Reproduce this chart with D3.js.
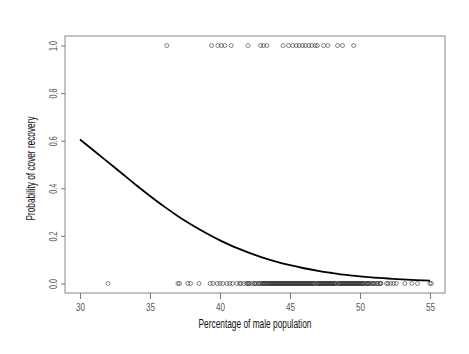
<!DOCTYPE html>
<html>
<head>
<meta charset="utf-8">
<script src="https://cdn.jsdelivr.net/npm/d3@7"></script>
<style>
  body { margin: 0; background: #fff; }
  text { font-family: "Liberation Sans Narrow", "Arial Narrow", "Liberation Sans", sans-serif; }
  .tick-label { fill: #555; font-size: 10.5px; }
  .axis-title { fill: #111; font-size: 13px; }
</style>
</head>
<body>
<div id="wrapper"></div>
<script>
// observed points: recovered (1) and not recovered (0)
const recoveredX = [36.2, 39.4, 39.85, 40.1, 40.35, 40.8, 42.0, 42.9, 43.1, 43.35,
  44.5, 44.9, 45.2, 45.45, 45.65, 45.9, 46.1, 46.35, 46.55, 46.8, 46.95,
  47.4, 47.7, 48.4, 48.75, 49.55]

const notRecoveredX = [32.0, 37.0, 37.1, 37.7, 37.9, 38.5, 39.3, 39.5, 39.8, 40.0,
  40.2, 40.5, 40.7, 40.9, 41.2, 41.4, 41.5, 41.7, 41.9, 42.0, 42.1, 42.3, 42.5,
  42.6, 42.8, 42.9, 43.0, 43.1, 43.2, 43.3, 43.4, 43.5, 43.6, 43.7, 43.8, 43.9,
  44.0, 44.1, 44.2, 44.3, 44.4, 44.5, 44.6, 44.7, 44.8, 44.9, 45.0, 45.1, 45.2,
  45.3, 45.4, 45.5, 45.6, 45.7, 45.8, 45.9, 46.0, 46.1, 46.2, 46.3, 46.4, 46.5,
  46.6, 46.7, 46.9, 47.0, 47.1, 47.2, 47.3, 47.4, 47.5, 47.6, 47.7, 47.8, 47.9,
  48.0, 48.1, 48.2, 48.3, 48.5, 48.6, 48.7, 48.8, 48.9, 49.0, 49.1, 49.2, 49.3,
  49.4, 49.5, 49.6, 49.7, 49.8, 49.9, 50.0, 50.1, 50.2, 50.3, 50.5, 50.6, 50.7,
  50.9, 51.0, 51.2, 51.4, 51.5, 51.9, 52.0, 52.2, 52.4, 52.6, 53.2, 53.7, 54.1,
  55.0, 55.1,
  // second pass through the dense band
  42.05, 42.45, 42.75, 43.05, 43.15, 43.25, 43.45, 43.55, 43.65, 43.75, 43.85,
  43.95, 44.05, 44.15, 44.25, 44.35, 44.45, 44.55, 44.65, 44.75, 44.85, 44.95,
  45.05, 45.15, 45.25, 45.35, 45.45, 45.55, 45.65, 45.75, 45.85, 45.95, 46.05,
  46.15, 46.25, 46.35, 46.45, 46.55, 46.65, 46.75, 46.95, 47.05, 47.15, 47.25,
  47.35, 47.45, 47.55, 47.65, 47.75, 47.85, 47.95, 48.05, 48.15, 48.25, 48.45,
  48.55, 48.65, 48.75, 48.85, 48.95, 49.05, 49.15, 49.25, 49.35, 49.45, 49.55,
  49.65, 49.75, 49.85, 49.95, 50.05, 50.15, 50.25, 50.45, 50.55, 50.65, 50.85,
  51.05, 51.25, 51.45]

// fitted curve
const curveX = [30, 31, 32, 33, 34, 35, 36, 37, 38, 39, 40, 41, 42, 43, 44, 45,
  46, 47, 48, 49, 50, 51, 52, 53, 54, 55]
const curveP = [0.605, 0.558, 0.510, 0.462, 0.414, 0.368, 0.324, 0.283, 0.246,
  0.212, 0.181, 0.154, 0.131, 0.110, 0.092, 0.077, 0.064, 0.053, 0.044, 0.036,
  0.030, 0.025, 0.021, 0.017, 0.014, 0.012]

const xTicks = [30, 35, 40, 45, 50, 55]
const yTicks = [0, 0.2, 0.4, 0.6, 0.8, 1.0]

const xLabel = "Percentage of male population"
const yLabel = "Probability of cover recovery"

const dimensions = {
  width: 469,
  height: 354,
  margin: { top: 36, right: 24, bottom: 61, left: 65 },
}
dimensions.boundedWidth = dimensions.width - dimensions.margin.left - dimensions.margin.right
dimensions.boundedHeight = dimensions.height - dimensions.margin.top - dimensions.margin.bottom

const wrapper = d3.select("#wrapper")
  .append("svg")
    .attr("width", dimensions.width)
    .attr("height", dimensions.height)

const bounds = wrapper.append("g")
    .attr("transform", `translate(${dimensions.margin.left},${dimensions.margin.top})`)

const xScale = d3.scaleLinear()
  .domain([28.93, 56.07])
  .range([0, dimensions.boundedWidth])

const yScale = d3.scaleLinear()
  .domain([-0.04, 1.04])
  .range([dimensions.boundedHeight, 0])

// points
const points = recoveredX.map(x => ({ x, y: 1 }))
  .concat(notRecoveredX.map(x => ({ x, y: 0 })))

bounds.selectAll(".dot")
  .data(points)
  .enter().append("circle")
    .attr("class", "dot")
    .attr("cx", d => xScale(d.x))
    .attr("cy", d => yScale(d.y))
    .attr("r", 2)
    .attr("fill", "none")
    .attr("stroke", "#333")
    .attr("stroke-width", 0.6)

// curve
const lineGenerator = d3.line()
  .x((d, i) => xScale(curveX[i]))
  .y(d => yScale(d))
  .curve(d3.curveMonotoneX)

bounds.append("path")
    .attr("d", lineGenerator(curveP))
    .attr("fill", "none")
    .attr("stroke", "#000")
    .attr("stroke-width", 1.8)

// box
bounds.append("rect")
    .attr("width", dimensions.boundedWidth)
    .attr("height", dimensions.boundedHeight)
    .attr("fill", "none")
    .attr("stroke", "#888")
    .attr("stroke-width", 1)

// axes
const xAxis = bounds.append("g")
    .attr("transform", `translate(0,${dimensions.boundedHeight})`)
  .call(d3.axisBottom(xScale).tickValues(xTicks).tickSize(6).tickPadding(5).tickFormat(d3.format("d")))
xAxis.select(".domain").remove()

const yAxis = bounds.append("g")
  .call(d3.axisLeft(yScale).tickValues(yTicks).tickSize(4).tickFormat(d3.format(".1f")))
yAxis.select(".domain").remove()

bounds.selectAll(".tick line").attr("stroke", "#777")
xAxis.selectAll(".tick text")
    .attr("class", "tick-label")
    .attr("font-size", null)
    .attr("font-family", null)
    .attr("textLength", 9)
    .attr("lengthAdjust", "spacingAndGlyphs")
yAxis.selectAll(".tick text")
    .attr("class", "tick-label")
    .attr("font-size", null)
    .attr("font-family", null)
    .attr("dy", null)
    .attr("text-anchor", "middle")
    .attr("transform", "translate(-12,0) rotate(-90)")
    .attr("x", 0)
    .attr("y", 3.5)
    .attr("textLength", 10)
    .attr("lengthAdjust", "spacingAndGlyphs")

bounds.append("text")
    .attr("class", "axis-title")
    .attr("x", dimensions.boundedWidth / 2)
    .attr("y", dimensions.boundedHeight + 35)
    .attr("text-anchor", "middle")
    .attr("textLength", 113)
    .attr("lengthAdjust", "spacingAndGlyphs")
    .text(xLabel)

bounds.append("text")
    .attr("class", "axis-title")
    .attr("transform", `translate(${-30},${dimensions.boundedHeight / 2 + 4}) rotate(-90)`)
    .attr("text-anchor", "middle")
    .attr("textLength", 104)
    .attr("lengthAdjust", "spacingAndGlyphs")
    .text(yLabel)
</script>
</body>
</html>
